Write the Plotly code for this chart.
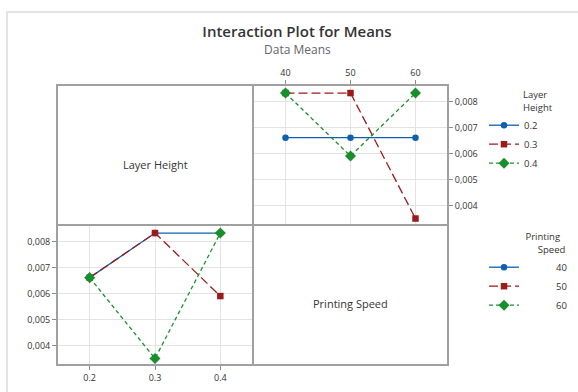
import plotly.graph_objects as go

# ---- data ----
layer_heights = [0.2, 0.3, 0.4]
speeds = [40, 50, 60]
# mean response, rows = layer height, columns = printing speed
means_lh02 = [0.00662, 0.00662, 0.00662]
means_lh03 = [0.00834, 0.00834, 0.00350]
means_lh04 = [0.00834, 0.00591, 0.00834]
means_table = [means_lh02, means_lh03, means_lh04]

lh_labels = ["0.2", "0.3", "0.4"]
speed_labels = ["40", "50", "60"]
y_ticks = [0.004, 0.005, 0.006, 0.007, 0.008]

colors = ["#0f5fb0", "#9b1b1b", "#17902c"]
symbols = ["circle", "square", "diamond"]
sizes = [6.5, 6.5, 8.5]
dashes = ["solid", "9px,4px", "4px,3px"]

NB = "&nbsp;"

fig = go.Figure()

# top-right panel: x = printing speed, lines = layer height
for i, lh in enumerate(lh_labels):
    fig.add_trace(go.Scatter(
        x=speeds, y=means_table[i], mode="lines+markers", name=lh,
        xaxis="x2", yaxis="y2", legend="legend",
        line=dict(color=colors[i], width=1.3, dash=dashes[i]),
        marker=dict(color=colors[i], symbol=symbols[i], size=sizes[i]),
    ))

# bottom-left panel: x = layer height, lines = printing speed
for j, sp in enumerate(speed_labels):
    fig.add_trace(go.Scatter(
        x=layer_heights, y=[row[j] for row in means_table], mode="lines+markers",
        name=NB * 13 + sp,
        xaxis="x", yaxis="y", legend="legend2",
        line=dict(color=colors[j], width=1.3, dash=dashes[j]),
        marker=dict(color=colors[j], symbol=symbols[j], size=sizes[j]),
    ))

W, H = 578, 392
L, M, R = 57, 253, 448
T, C, B = 85, 225, 365

def px(xp):
    return xp / W

def py(yp):
    return (H - yp) / H

axis_common = dict(
    showgrid=True, gridcolor="#e3e3e3", gridwidth=1, zeroline=False,
    showline=False, ticks="outside", ticklen=4, tickcolor="#8c8c8c",
    tickfont=dict(size=9, color="#333333", family="Open Sans"),
)
yrange = [0.00325, 0.00865]
legend_font = dict(size=9.5, color="#333333", family="Open Sans")

fig.update_layout(
    width=W, height=H,
    margin=dict(l=0, r=0, t=0, b=0, autoexpand=False),
    paper_bgcolor="white", plot_bgcolor="white",
    separators=",.",
    font=dict(family="Open Sans", color="#333333"),
    xaxis=dict(domain=[px(L), px(M)], range=[0.15, 0.45], tickvals=layer_heights,
               ticktext=lh_labels, anchor="y", **axis_common),
    yaxis=dict(domain=[py(B), py(C)], range=yrange, tickvals=y_ticks, tickformat=".3f",
               anchor="x", side="left", **axis_common),
    xaxis2=dict(domain=[px(M), px(R)], range=[35, 65], tickvals=speeds, ticktext=speed_labels,
                anchor="y2", side="top", **axis_common),
    yaxis2=dict(domain=[py(C), py(T)], range=yrange, tickvals=y_ticks, tickformat=".3f",
                anchor="x2", side="right", **axis_common),
    legend=dict(
        x=px(484), y=py(86), xanchor="left", yanchor="top",
        title=dict(text=NB * 15 + "Layer<br>" + NB * 15 + "Height", font=legend_font),
        font=legend_font, itemwidth=30, tracegroupgap=0,
        bgcolor="rgba(0,0,0,0)",
    ),
    legend2=dict(
        x=px(484), y=py(228), xanchor="left", yanchor="top",
        title=dict(text=NB * 16 + "Printing<br>" + NB * 21 + "Speed", font=legend_font),
        font=legend_font, itemwidth=30, tracegroupgap=0,
        bgcolor="rgba(0,0,0,0)",
    ),
    title=dict(
        text="Interaction Plot for Means",
        x=px(297), xanchor="center", y=py(32), yanchor="middle",
        font=dict(size=15, color="#333333", family="Open Sans", weight=600),
    ),
    showlegend=True,
)

frame = dict(color="#a0a0a0", width=2)
shapes = [
    # outer light frame of the graph region
    dict(type="rect", xref="paper", yref="paper", x0=px(7), x1=px(600), y0=py(420), y1=py(12),
         line=dict(color="#dcdcdc", width=1.5), layer="below"),
    # matrix frame
    dict(type="rect", xref="paper", yref="paper", x0=px(L), x1=px(R), y0=py(B), y1=py(T), line=frame),
    dict(type="line", xref="paper", yref="paper", x0=px(M), x1=px(M), y0=py(B), y1=py(T), line=frame),
    dict(type="line", xref="paper", yref="paper", x0=px(L), x1=px(R), y0=py(C), y1=py(C), line=frame),
]
fig.update_layout(shapes=shapes)

ann = dict(xref="paper", yref="paper", showarrow=False, xanchor="center", yanchor="middle")
fig.add_annotation(text="Data Means", x=px(297), y=py(49),
                   font=dict(size=12, color="#666666", family="Open Sans"), **ann)
fig.add_annotation(text="Layer Height", x=px(155), y=py(164),
                   font=dict(size=11, color="#333333", family="Open Sans"), **ann)
fig.add_annotation(text="Printing Speed", x=px(350), y=py(303),
                   font=dict(size=11, color="#333333", family="Open Sans"), **ann)

fig.write_html("out.html", config={"displayModeBar": False},
               post_script="document.body.style.margin='0';document.body.style.overflow='hidden';")
